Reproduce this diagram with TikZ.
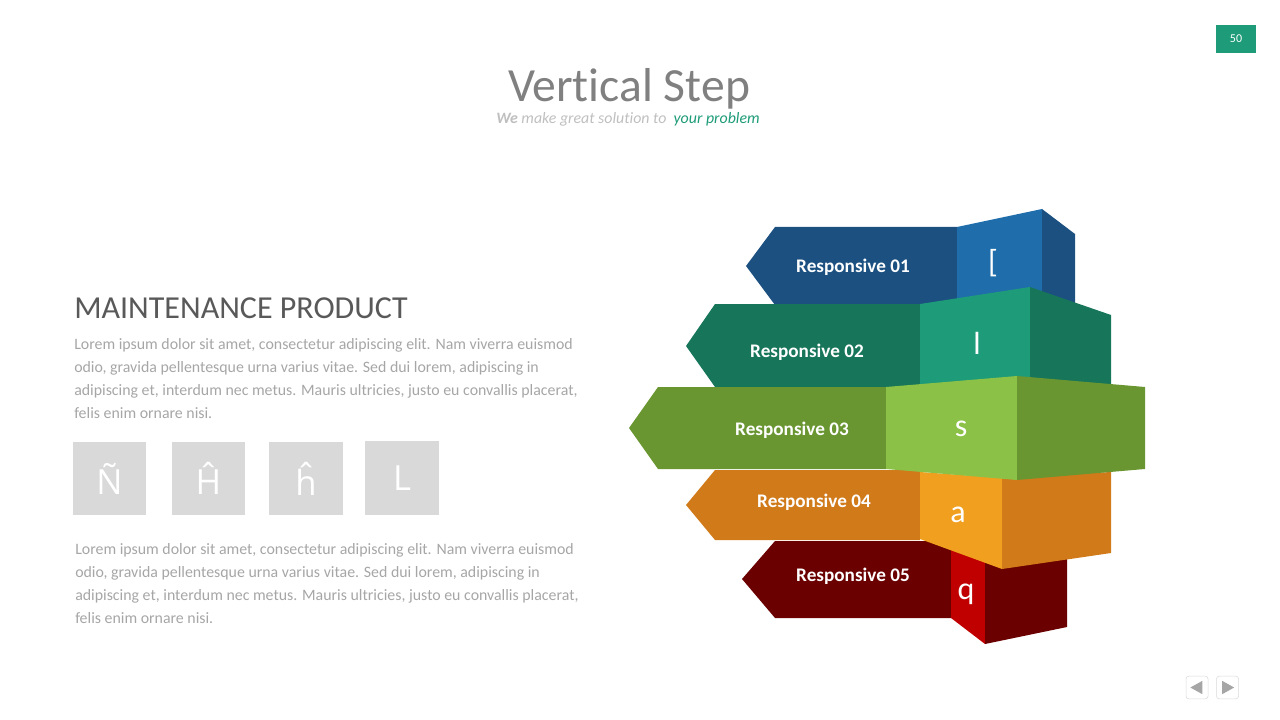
\documentclass[tikz,border=0pt]{standalone}
\usepackage{fontspec}
\setmainfont{Carlito}[Ligatures=CommonOff]
\newfontfamily\iconfont{Open Sans}
\usepackage{tikz}
\usetikzlibrary{positioning}

\definecolor{blue_dark}{HTML}{1B5080}
\definecolor{blue_light}{HTML}{1F6EAB}
\definecolor{teal_dark}{HTML}{17755A}
\definecolor{teal_light}{HTML}{1E9B78}
\definecolor{lime_dark}{HTML}{6A9632}
\definecolor{lime_light}{HTML}{8BC146}
\definecolor{orange_dark}{HTML}{D07A1A}
\definecolor{orange_light}{HTML}{F0A01E}
\definecolor{red_dark}{HTML}{6B0000}
\definecolor{red_light}{HTML}{C00000}
\definecolor{box_gray}{HTML}{D9D9D9}
\definecolor{text_gray}{HTML}{A6A6A6}

\begin{document}
\begin{tikzpicture}[
		x=0.75pt, y=-0.75pt,
		step_label/.style={text=white, font=\fontsize{14.4}{16}\selectfont\bfseries, inner sep=0pt},
		glyph/.style={text=white, font=\fontsize{24}{28}\selectfont, inner sep=0pt},
		icon_box/.style={fill=box_gray, minimum width=55pt, minimum height=55pt, inner sep=0pt, text=white, font=\fontsize{26}{30}\selectfont\iconfont},
		para/.style={text=text_gray, align=left, anchor=north west, inner sep=0pt, font=\fontsize{11.9}{17.2}\selectfont},
		nav_btn/.style={draw=box_gray, rounded corners=2pt, minimum width=16.5pt, minimum height=17pt, inner sep=0pt}
		]
		\useasboundingbox (0,0) rectangle (1280,720);
		
		% Header
		\node[text=black!50, font=\fontsize{35.7}{40}\selectfont] (title) at (629,89) {Vertical Step};
		\node[font=\fontsize{11.9}{13}\selectfont\itshape, text=black!25] (subtitle) at (628,119.5)
			{\textbf{We} make great solution to \ \textcolor{teal_light}{your problem}};
		\node[fill=teal_light, minimum width=30pt, minimum height=21pt, inner sep=0pt, text=white, font=\fontsize{9}{10}\selectfont] (page_no) at (1236,39) {50};
		
		% Left Side: text and icons
		\node[anchor=base west, inner sep=0pt, text=black!65, font=\fontsize{24}{27}\selectfont] (heading) at (74,318) {MAINTENANCE PRODUCT};
		\node[para] (para_top) at (74,338) {Lorem ipsum dolor sit amet, consectetur adipiscing elit. Nam viverra euismod\\
			odio, gravida pellentesque urna varius vitae. Sed dui lorem, adipiscing in\\
			adipiscing et, interdum nec metus. Mauris ultricies, justo eu convallis placerat,\\
			felis enim ornare nisi.};
		\node[icon_box] (icon_a) at (109.5,478.5) {Ñ};
		\node[icon_box] (icon_b) at (208.5,478.5) {Ĥ};
		\node[icon_box] (icon_c) at (306,478.5) {ĥ};
		\node[icon_box] (icon_d) at (402,478) {L};
		\node[para] (para_bot) at (75,543) {Lorem ipsum dolor sit amet, consectetur adipiscing elit. Nam viverra euismod\\
			odio, gravida pellentesque urna varius vitae. Sed dui lorem, adipiscing in\\
			adipiscing et, interdum nec metus. Mauris ultricies, justo eu convallis placerat,\\
			felis enim ornare nisi.};
		
		% Right Side: stacked steps
		% step 1
		\fill[blue_dark] (746,266) -- (775,227) -- (957,227) -- (957,305) -- (775,305) -- cycle;
		\fill[blue_light] (957,227) -- (1042,209) -- (1042,305) -- (957,305) -- cycle;
		\fill[blue_dark] (1042,209) -- (1075,234) -- (1075,305) -- (1042,305) -- cycle;
		% step 2
		\fill[teal_dark] (686,346) -- (715,304) -- (920,304) -- (920,387) -- (715,387) -- cycle;
		\fill[teal_light] (920,304) -- (1030,287) -- (1030,386) -- (920,386) -- cycle;
		\fill[teal_dark] (1030,287) -- (1111,315) -- (1111,386) -- (1030,386) -- cycle;
		% step 5
		\fill[red_dark] (742,579) -- (775,541) -- (951,541) -- (951,618) -- (775,618) -- cycle;
		\fill[red_light] (951,550) -- (985,560) -- (985,644) -- (951,618) -- cycle;
		\fill[red_dark] (985,560) -- (1067,556) -- (1067,627) -- (985,644) -- cycle;
		% step 4
		\fill[orange_dark] (686,505) -- (715,470) -- (920,470) -- (920,540) -- (715,540) -- cycle;
		\fill[orange_light] (920,472) -- (1002,478) -- (1002,569) -- (920,539) -- cycle;
		\fill[orange_dark] (1002,478) -- (1111,472) -- (1111,553) -- (1002,569) -- cycle;
		% step 3
		\fill[lime_dark] (629,428) -- (658,387) -- (886,387) -- (886,469) -- (658,469) -- cycle;
		\fill[lime_light] (886,387) -- (1017,376) -- (1017,480) -- (886,469) -- cycle;
		\fill[lime_dark] (1017,376) -- (1145,387) -- (1145,469) -- (1017,480) -- cycle;
		
		\node[step_label] (lbl_one) at (853,267) {Responsive 01};
		\node[step_label] (lbl_two) at (807,352) {Responsive 02};
		\node[step_label] (lbl_three) at (792,430) {Responsive 03};
		\node[step_label] (lbl_four) at (814,502) {Responsive 04};
		\node[step_label] (lbl_five) at (853,576) {Responsive 05};
		
		\node[glyph] (gl_one) at (993,263) {[};
		\node[glyph] (gl_two) at (977,343) {l};
		\node[glyph] (gl_three) at (961,429) {s};
		\node[glyph] (gl_four) at (958,515) {a};
		\node[glyph] (gl_five) at (966,594) {q};
		
		% Navigation
		\node[nav_btn] (nav_prev) at (1197,687.5) {};
		\node[nav_btn] (nav_next) at (1227.5,687.5) {};
		\fill[text_gray] ([xshift=-5pt]nav_prev.center) -- ([xshift=4pt, yshift=5pt]nav_prev.center) -- ([xshift=4pt, yshift=-5pt]nav_prev.center) -- cycle;
		\fill[text_gray] ([xshift=5pt]nav_next.center) -- ([xshift=-4pt, yshift=5pt]nav_next.center) -- ([xshift=-4pt, yshift=-5pt]nav_next.center) -- cycle;
		
	\end{tikzpicture}
\end{document}
